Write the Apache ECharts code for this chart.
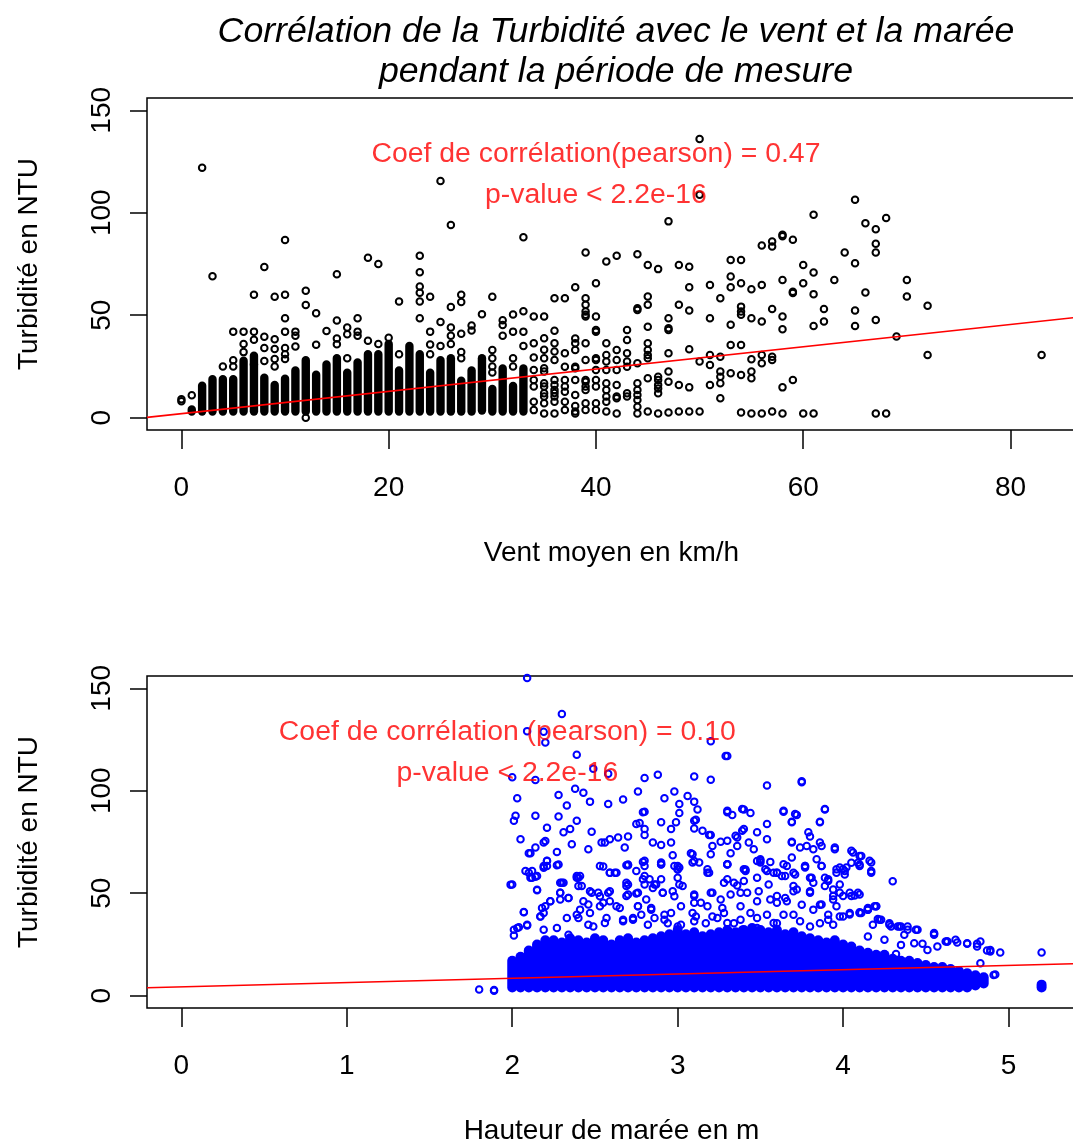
<!DOCTYPE html>
<html>
<head>
<meta charset="utf-8">
<script src="https://cdn.jsdelivr.net/npm/echarts@6/dist/echarts.min.js"></script>
<style>
  html, body { margin: 0; padding: 0; background: #fff; }
  #chart { width: 1073px; height: 1147px; }
</style>
</head>
<body>
<div id="chart"></div>
<script>
// graduations des axes
var windTicks = [0, 20, 40, 60, 80];
var tideTicks = [0, 1, 2, 3, 4, 5];
var ntuTicks = [0, 50, 100, 150];

// vent : colonnes de points superposés [vent, turbidité min, turbidité max]
var windColumns = [
  [1, 3, 4], [2, 3, 15.6], [3, 3, 18.8], [4, 3, 18.8], [5, 3, 18.8], [6, 3, 27.8],
  [7, 3, 30.2], [8, 3, 19.5], [9, 3, 16], [10, 3, 19], [11, 3, 23], [12, 3, 28],
  [13, 3, 21], [14, 3, 26], [15, 3, 29], [16, 3, 22], [17, 3, 27], [18, 3, 31],
  [19, 3, 31], [20, 3, 36], [21, 3, 23], [22, 3, 35], [23, 3, 31], [24, 3, 22],
  [25, 3, 28], [26, 3, 29], [27, 3, 18], [28, 3, 23], [29, 3.5, 29], [30, 3, 14],
  [31, 3, 24], [32, 3, 15.5], [33, 3, 24]
];
// vent : points isolés [vent, turbidité]
var windPoints = [
  [0, 9], [0, 8], [1, 11], [2, 122], [3, 69], [4, 25],
  [5, 25], [5, 28], [5, 42], [6, 32], [6, 36], [6, 42],
  [7, 26], [7, 38], [7, 42], [7, 60], [8, 27.7], [8, 34], [8, 39.5], [8, 73.5],
  [9, 25], [9, 28.6], [9, 33.5], [9, 38.3], [9, 59],
  [10, 28.6], [10, 31], [10, 34], [10, 42], [10, 48.5], [10, 60], [10, 86.7],
  [11, 34.8], [11, 40], [11, 42], [12, 0], [12, 55], [12, 62], [13, 35.6], [13, 51],
  [14, 42.3], [15, 35.8], [15, 38.6], [15, 47.4], [15, 70], [16, 29], [16, 40.7], [16, 44],
  [17, 40], [17, 42], [17, 48.5], [18, 37.5], [18, 78], [19, 36], [19, 75], [20, 39],
  [21, 31], [21, 56.7], [23, 48.5], [23, 56.7], [23, 61], [23, 64], [23, 71], [23, 79],
  [24, 31], [24, 35.7], [24, 42], [24, 59], [25, 35], [25, 46.7], [25, 115.5],
  [26, 36], [26, 40], [26, 44], [26, 54], [26, 94], [27, 29], [27, 32], [27, 41], [27, 56.5], [27, 60],
  [28, 42.5], [28, 45], [29, 50.5], [30, 22], [30, 25], [30, 29], [30, 33], [30, 59],
  [31, 40], [31, 45.2], [31, 47.6], [32, 25], [32, 29], [32, 42], [32, 50.3],
  [33, 35], [33, 42], [33, 52], [33, 88],
  [34, 3.7], [34, 7.8], [34, 15.2], [34, 18.4], [34, 23.3], [34, 29.4], [34, 36.3], [34, 49.4],
  [35, 2.1], [35, 7], [35, 10.3], [35, 11.9], [35, 15.2], [35, 16.8], [35, 22.5], [35, 24.1],
  [35, 29], [35, 33.1], [35, 38.8], [35, 49.4],
  [36, 2.1], [36, 7.8], [36, 10.3], [36, 12], [36, 13.5], [36, 16], [36, 18.4], [36, 28.2],
  [36, 32.3], [36, 36.3], [36, 42.4], [36, 58.3],
  [37, 58.3], [37, 31.4], [37, 24.9], [37, 18.4], [37, 15.2], [37, 12.7], [37, 7.8], [37, 3.8],
  [38, 63.7], [38, 38.7], [38, 36.3], [38, 33], [38, 24.9], [38, 24.1], [38, 18.4], [38, 11.1], [38, 5.7], [38, 3], [38, 2.1],
  [39, 80.6], [39, 58.3], [39, 55.1], [39, 51.8], [39, 50.2], [39, 49.4], [39, 36.3], [39, 28.2],
  [39, 18.4], [39, 17.6], [39, 15.2], [39, 13.5], [39, 7], [39, 3.8],
  [40, 65.6], [40, 49.4], [40, 42.8], [40, 42], [40, 29], [40, 28.2], [40, 23.3], [40, 18.4], [40, 15.2], [40, 7], [40, 3.8],
  [41, 76.2], [41, 36.3], [41, 30.6], [41, 27.4], [41, 23.3], [41, 16.8], [41, 13.5], [41, 10.3], [41, 7.8], [41, 3],
  [42, 79], [42, 33], [42, 28.2], [42, 23.3], [42, 16], [42, 10.3], [42, 9.5], [42, 2.1],
  [43, 42.8], [43, 37.9], [43, 31.4], [43, 27.4], [43, 24.9], [43, 11.9], [43, 10.3],
  [44, 79.8], [44, 53.4], [44, 52.6], [44, 26.6], [44, 16.8], [44, 13.5], [44, 11.1], [44, 8.6], [44, 5.4], [44, 2.1],
  [45, 74.5], [45, 59.2], [45, 55.1], [45, 44.4], [45, 36.3], [45, 33], [45, 30.6], [45, 29], [45, 19.2], [45, 3],
  [46, 72.5], [46, 20], [46, 18.4], [46, 16], [46, 14.3], [46, 11.9], [46, 2.1],
  [47, 95.8], [47, 48.5], [47, 43.6], [47, 42.8], [47, 31.4], [47, 22.5], [47, 17.6], [47, 2.5],
  [48, 74.5], [48, 55.1], [48, 16], [48, 3],
  [49, 73.7], [49, 63.7], [49, 52.3], [49, 33.4], [49, 14.8], [49, 3],
  [50, 136], [50, 108.8], [50, 27.4], [50, 3],
  [51, 64.8], [51, 48.5], [51, 30.6], [51, 25.7], [51, 16],
  [52, 58.3], [52, 29.8], [52, 22.5], [52, 20], [52, 16.8], [52, 9.5],
  [53, 77], [53, 68.9], [53, 63.7], [53, 45.3], [53, 35.5], [53, 21.7],
  [54, 77], [54, 65.6], [54, 54.2], [54, 51.8], [54, 50.2], [54, 35.5], [54, 20.8], [54, 2.5],
  [55, 62.7], [55, 48.5], [55, 28.5], [55, 22.5], [55, 19.2], [55, 2.1],
  [56, 84], [56, 64.8], [56, 46.9], [56, 30.6], [56, 26.6], [56, 2.1],
  [57, 86], [57, 83.5], [57, 53], [57, 29.8], [57, 28.2], [57, 3],
  [58, 89.3], [58, 88.6], [58, 67.2], [58, 49.4], [58, 43.2], [58, 14.8], [58, 2.1],
  [59, 86.8], [59, 60.8], [59, 61.5], [59, 18.4],
  [60, 74.5], [60, 65.6], [60, 2.1],
  [61, 99], [61, 70.8], [61, 60.3], [61, 44.8], [61, 2.1],
  [62, 53], [62, 46.9], [63, 67.2], [64, 80.6],
  [65, 106.3], [65, 75.4], [65, 52.3], [65, 44.8], [66, 94.9], [66, 61.1],
  [67, 92], [67, 84.9], [67, 80.6], [67, 47.7], [67, 2.1], [68, 97.4], [68, 2.1],
  [69, 39.6], [70, 67.2], [70, 59.2], [72, 54.6], [72, 30.6], [83, 30.6]
];
// droite de régression (extrémités)
var windFitLine = [[-3.32, 0.14], [86.32, 48.9]];
var windText = [[40, 130, 'Coef de corrélation(pearson) = 0.47'], [40, 110, 'p-value < 2.2e-16']];

// marée : masse dense [hauteur, turbidité min, turbidité max]
var tideColumns = [
  [2.00, 4, 17], [2.05, 4, 19], [2.10, 4, 22], [2.15, 4, 25], [2.20, 4, 27], [2.25, 4, 27],
  [2.30, 4, 26], [2.35, 4, 28], [2.40, 4, 27], [2.45, 4, 26], [2.50, 4, 28], [2.55, 4, 27],
  [2.60, 4, 25], [2.65, 4, 27], [2.70, 4, 28], [2.75, 4, 26], [2.80, 4, 27], [2.85, 4, 28],
  [2.90, 4, 29], [2.95, 4, 30], [3.00, 4, 32], [3.05, 4, 30], [3.10, 4, 31], [3.15, 4, 29],
  [3.20, 4, 30], [3.25, 4, 31], [3.30, 4, 32], [3.35, 4, 31], [3.40, 4, 32], [3.45, 4, 33],
  [3.50, 4, 32], [3.55, 4, 31], [3.60, 4, 32], [3.65, 4, 30], [3.70, 4, 31], [3.75, 4, 29],
  [3.80, 4, 28], [3.85, 4, 27], [3.90, 4, 26], [3.95, 4, 27], [4.00, 4, 25], [4.05, 4, 24],
  [4.10, 4, 22], [4.15, 4, 21], [4.20, 4, 20], [4.25, 4, 20], [4.30, 4, 18], [4.35, 4, 17],
  [4.40, 4, 17], [4.45, 4, 16], [4.50, 4, 15], [4.55, 4, 14], [4.60, 4, 14], [4.65, 4, 13],
  [4.70, 4, 12], [4.75, 4, 11], [4.80, 5, 10], [4.85, 6, 9], [5.20, 4, 5.4]
];
// marée : points isolés [hauteur, turbidité]
var tidePoints = [
  [2.09, 155], [2.09, 129.1], [2.19, 128.8], [2.20, 123.5], [2.0, 106.6], [2.14, 105.3], [2.03, 96.3],
  [2.28, 97.9], [2.02, 87.8], [2.14, 87.8], [2.28, 87.4], [2.21, 81.9], [2.05, 76.3], [2.20, 75.5],
  [2.10, 69.5], [2.27, 70.1], [2.08, 60.8], [2.19, 62.4], [2.27, 63.6], [1.99, 54.2], [2.12, 57.5],
  [2.15, 51.7], [2.07, 40.7], [2.17, 38.7], [2.01, 29.4], [2.04, 33.4], [2.09, 34.3],
  [1.80, 3.0], [1.89, 2.4], [1.89, 2.8],
  [2.01, 85.4], [2.11, 69.5], [2.14, 72.3], [2.19, 74.8], [2.21, 65.8], [2.21, 63.3], [2.11, 57.6],
  [2.15, 58.4], [2.23, 46.1], [2.19, 32.2], [2.27, 33.0],
  [2.30, 137.5], [2.39, 117.6], [3.20, 124.2], [3.29, 117.0], [3.30, 117], [2.58, 108.3], [2.49, 110.8],
  [2.80, 106.2], [2.88, 107.8], [3.10, 107.0], [3.20, 105.4], [3.54, 102.6], [3.75, 104.2], [2.38, 101],
  [2.43, 99], [2.58, 93.6], [2.67, 95.7], [2.76, 99.6], [2.98, 99.6], [3.06, 97.4], [3.10, 94.7],
  [2.92, 96.4], [2.47, 94.7], [2.33, 92.8], [2.79, 89.5], [3.01, 93.6], [3.01, 89.2], [3.30, 89.5],
  [3.33, 88.2], [3.39, 91.1], [3.44, 89.2], [3.64, 89.8], [3.72, 88.2], [3.89, 90.8], [3.86, 84.6],
  [3.69, 84.6], [2.77, 84.3], [2.90, 84.6], [2.96, 81.3], [2.99, 84.6], [3.11, 85.9], [3.54, 83.8],
  [2.39, 85.4], [2.48, 80.0], [2.56, 74.8], [2.64, 77.2], [2.70, 77.7], [2.85, 74.8], [2.90, 73.5],
  [2.96, 74.8], [3.09, 69.0], [3.20, 78.4], [3.30, 75.6], [3.35, 78.0], [3.39, 80.5], [3.48, 79.7],
  [3.54, 76.4], [3.69, 74.8], [3.74, 72.3], [3.78, 73.1], [3.86, 74.8], [3.95, 71.5], [3.84, 66.6],
  [4.06, 69.9], [4.11, 68.2], [4.17, 65.0], [4.10, 63.3], [4.00, 61.7], [3.96, 60.0], [4.30, 55.9],
  [2.55, 63.0], [2.69, 63.6], [2.79, 65.3], [2.90, 65.0], [3.0, 61.7], [3.01, 62.5], [3.20, 69.0],
  [3.30, 64.1], [3.41, 60.9], [3.50, 65.8], [3.60, 60.0], [3.70, 60.0], [3.77, 62.5], [2.39, 57.6],
  [2.59, 60.0], [2.69, 55.1], [2.83, 56.8], [3.09, 65.0], [3.18, 61.7], [3.30, 56.8], [3.34, 55.1],
  [3.40, 56.0], [3.55, 54.3], [3.70, 53.5], [3.82, 55.1], [3.94, 51.8], [4.00, 48.6], [4.07, 48.9],
  [4.15, 42.3], [4.20, 43.6], [4.22, 37.1], [4.29, 33.8], [4.35, 33.8], [4.44, 32.2], [4.55, 29.8],
  [4.63, 26.5], [4.75, 25.3], [4.81, 24.0], [4.89, 21.6], [4.95, 21.1], [5.20, 21.1], [4.91, 10.1],
  [4.79, 8.5],
  [2.40, 57.6], [2.63, 60.0], [2.75, 60.8], [2.79, 56.8], [2.90, 56.8], [3.00, 57.6], [3.18, 60.0],
  [3.28, 55.1], [3.36, 53.8], [3.40, 61.7], [3.48, 57.6], [3.53, 61.7], [2.29, 55.1], [2.40, 53.5],
  [2.52, 50.2], [2.58, 50.2], [2.69, 53.5], [2.75, 49.9], [2.86, 54.3], [2.91, 50.2], [3.10, 48.6],
  [3.21, 50.2], [2.29, 50.2], [2.34, 47.7], [2.41, 42.0], [2.46, 44.5], [2.53, 43.6], [2.59, 46.1],
  [2.69, 48.6], [2.76, 43.6], [2.84, 42.8], [2.96, 40.4], [3.02, 43.6], [3.10, 45.3], [3.18, 43.6],
  [3.28, 40.4], [3.38, 43.6], [3.48, 46.1], [3.60, 48.6], [2.34, 29.7], [2.40, 37.9], [2.46, 34.6],
  [2.56, 35.5], [2.67, 36.3], [2.73, 37.9], [2.82, 34.6], [2.92, 37.1], [3.00, 33.8], [3.10, 36.3],
  [3.21, 38.7], [3.30, 35.5], [3.39, 32.2], [3.48, 33.0], [3.58, 35.5],
  [2.35, 81.3], [2.31, 79.7], [2.54, 74.8], [2.59, 76.4], [2.75, 83.8], [2.80, 81.3], [2.80, 89.8],
  [2.80, 78.4], [3.10, 81.6], [3.10, 85.4], [3.15, 80.5], [3.19, 78.4], [3.26, 75.1], [3.36, 77.2],
  [3.40, 81.3], [2.36, 73.9], [2.46, 71.5], [2.68, 72.3], [2.97, 68.5], [3.08, 69.5], [3.21, 73.1],
  [3.32, 69.5], [3.36, 73.1], [3.43, 74.8], [3.46, 71.5], [3.50, 66.6], [3.56, 65.3], [2.70, 63.6],
  [2.80, 65.8], [2.90, 64.1], [3.00, 63.3], [3.30, 64.1], [3.40, 90.8], [3.12, 90.8], [3.30, 90.3],
  [3.75, 104.6], [3.64, 90.3], [3.71, 88.7], [3.69, 84.9], [3.89, 91.1], [3.86, 84.9], [3.79, 79.7],
  [3.80, 77.7], [3.69, 75.1], [3.82, 71.5], [3.87, 73.1], [3.95, 72.3], [4.05, 70.7], [4.10, 68.2],
  [4.16, 65.8], [4.17, 60.8], [3.69, 67.4], [3.64, 64.1], [3.77, 63.3], [3.87, 63.3], [3.96, 61.7],
  [4.02, 62.5], [4.09, 64.9], [3.58, 60], [3.65, 58.4], [3.80, 57.6], [3.91, 56.8], [4.01, 59.2],
  [3.89, 53.5], [3.98, 54.3], [3.72, 51.8], [4.05, 48.6], [4.10, 49.4], [3.94, 48.6], [3.80, 50.2],
  [3.66, 46.1], [3.87, 44.5], [3.96, 43.6], [3.82, 42.0], [4.04, 39.6], [4.10, 40.7], [4.15, 42.0],
  [4.19, 43.6], [3.91, 37.1], [3.98, 38.7], [4.21, 37.4], [4.18, 34.6], [4.28, 34.6], [4.34, 33.8],
  [4.39, 33.8], [4.37, 29.7], [4.55, 30.2], [4.48, 25.3], [4.62, 26.5], [4.69, 26.0], [4.75, 25.6],
  [4.81, 25.3], [4.87, 22.0], [4.32, 20.4], [4.83, 15.8], [4.92, 10.4], [4.80, 9.3],
  [2.00, 54.3], [2.10, 60], [2.12, 60.8], [2.14, 58], [2.19, 63.3], [2.21, 65.7], [2.28, 64],
  [2.15, 51.5], [2.30, 55.1], [2.31, 55.1], [2.29, 50.2], [2.39, 58.4], [2.41, 58.4], [2.42, 53.5],
  [2.47, 51], [2.53, 63.3], [2.59, 60], [2.62, 60], [2.70, 64], [2.70, 54.3], [2.76, 50.2],
  [2.80, 63.3], [2.80, 58.4], [2.80, 54.3], [2.87, 54.3], [2.90, 64], [2.98, 63.3], [3.0, 61.6],
  [3.01, 54.3], [3.10, 65.7], [3.13, 65], [3.19, 60], [3.30, 64], [3.41, 61.6], [3.48, 65.7],
  [3.50, 65], [3.54, 60.8], [3.60, 60], [3.63, 58.4], [3.66, 63.3], [3.71, 59.2], [3.77, 63.3],
  [3.81, 57.5], [3.87, 63.3], [3.89, 57.5], [3.91, 56], [3.98, 62.5], [4.01, 60.8], [4.05, 64.9],
  [4.10, 64], [4.17, 60],
  [2.07, 40.9], [2.23, 46.1], [2.18, 42.8], [2.20, 43.6], [2.29, 46.9], [2.34, 47.7], [2.39, 39.5],
  [2.48, 50.2], [2.53, 48.5], [2.55, 45.3], [2.59, 51], [2.63, 43.6], [2.70, 49.4], [2.76, 43.6],
  [2.81, 46.9], [2.85, 52.6], [2.91, 50.2], [2.97, 51], [2.98, 48.5], [3.03, 53.5], [3.10, 49.4],
  [3.14, 45.3], [3.20, 50.2], [3.26, 46.9], [3.32, 49.4], [3.38, 50.2], [3.42, 50.2], [3.49, 51],
  [3.56, 46.9], [3.60, 45.3], [3.65, 47.7], [3.70, 51], [3.75, 44.4], [3.80, 51], [3.86, 44.4],
  [3.94, 46.9], [3.98, 50.2], [4.04, 50.2], [4.09, 50.2], [4.11, 40.4], [4.15, 42], [4.20, 43.6],
  [2.01, 32.2], [2.03, 33], [2.09, 34.6], [2.17, 38.7], [2.19, 40.4], [2.33, 37.9], [2.43, 46.1],
  [2.47, 40.4], [2.49, 33.8], [2.57, 37.9], [2.65, 42.8], [2.67, 37.1], [2.73, 37.1], [2.78, 39.5],
  [2.84, 42], [2.86, 37.9], [2.92, 39.5], [2.94, 35.4], [3.02, 34.6], [3.09, 40.4], [3.11, 38.7],
  [3.17, 35.4], [3.24, 37.9], [3.27, 42.8], [3.34, 35.4], [3.38, 37.1], [3.44, 40.4], [3.48, 37.9],
  [3.54, 39.5], [3.60, 35.4], [3.64, 39.5], [3.70, 39.5], [3.74, 36.3], [3.80, 33.8], [3.86, 35.4],
  [3.91, 39.5], [3.94, 34.6], [4.0, 38.7], [4.04, 40.4], [4.10, 40.4], [4.15, 42.8], [4.23, 37.1],
  [4.28, 35.4], [4.33, 33.8], [4.39, 32.2], [4.45, 32.2], [4.55, 30.6], [4.63, 26.4], [4.68, 27.3],
  [4.15, 28.9], [4.25, 27.3], [4.35, 24.8], [4.43, 25.6], [4.51, 22.3], [4.57, 24], [4.83, 26.4],
  [4.89, 22.3]
];
var tideFitLine = [[-0.208, 3.9], [5.408, 15.6]];
var tideText = [[1.97, 130, 'Coef de corrélation (pearson) = 0.10'], [1.97, 110, 'p-value < 2.2e-16']];

var FONT = 'Liberation Sans, Arial, sans-serif';

// colonne de cercles serrés -> capsule pleine
function columnRenderer(color, r) {
  return function (params, api) {
    var top = api.coord([api.value(0), api.value(2)]);
    var bot = api.coord([api.value(0), api.value(1)]);
    return {
      type: 'rect',
      shape: { x: top[0] - r, y: top[1] - r, width: 2 * r, height: bot[1] - top[1] + 2 * r, r: r },
      style: { fill: color }
    };
  };
}

function xAxisFor(idx, min, max, ticks, name) {
  return {
    type: 'value', gridIndex: idx, min: min, max: max,
    name: name, nameLocation: 'middle', nameGap: 109,
    nameTextStyle: { fontFamily: FONT, fontSize: 28, color: '#000' },
    axisLine: { show: false, onZero: false },
    splitLine: { show: false },
    axisTick: { show: true, length: 19, customValues: ticks, lineStyle: { color: '#000', width: 1.5 } },
    axisLabel: { show: true, customValues: ticks, margin: 44, fontFamily: FONT, fontSize: 28, color: '#000' }
  };
}

function yAxisFor(idx) {
  return {
    type: 'value', gridIndex: idx, min: -6, max: 156,
    name: 'Turbidité en NTU', nameLocation: 'middle', nameGap: 104, nameRotate: 90,
    nameTextStyle: { fontFamily: FONT, fontSize: 28, color: '#000' },
    axisLine: { show: false, onZero: false },
    splitLine: { show: false },
    axisTick: { show: true, length: 17, customValues: ntuTicks, lineStyle: { color: '#000', width: 1.5 } },
    axisLabel: { show: true, customValues: ntuTicks, rotate: 90, margin: 31, fontFamily: FONT, fontSize: 28, color: '#000' }
  };
}

function pointSeries(idx, data, color) {
  return {
    type: 'scatter', xAxisIndex: idx, yAxisIndex: idx, data: data,
    symbol: 'circle', symbolSize: 6.5, silent: true,
    itemStyle: { color: 'rgba(0,0,0,0)', borderColor: color, borderWidth: 2, opacity: 1 },
    clip: true
  };
}

function textSeries(idx, data) {
  return {
    type: 'scatter', xAxisIndex: idx, yAxisIndex: idx, data: data,
    symbol: 'circle', symbolSize: 1, silent: true, z: 10,
    itemStyle: { color: 'rgba(0,0,0,0)' },
    label: {
      show: true, position: 'inside', offset: [0, 3], color: '#ff0000', fontFamily: FONT, fontSize: 28.4,
      formatter: function (p) { return p.value[2]; }
    }
  };
}

var chart = echarts.init(document.getElementById('chart'), null, { renderer: 'canvas' });
chart.setOption({
  animation: false,
  backgroundColor: '#fff',
  title: {
    text: 'Corrélation de la Turbidité avec le vent et la marée\npendant la période de mesure',
    left: 611, top: 7, textAlign: 'center',
    textStyle: { fontFamily: FONT, fontSize: 35.7, fontStyle: 'italic', fontWeight: 'normal', color: '#000', lineHeight: 40 }
  },
  grid: [
    { left: 147, top: 98, width: 929, height: 332, show: true, borderColor: '#000', borderWidth: 1.5, backgroundColor: 'transparent', outerBoundsMode: 'none' },
    { left: 147, top: 676, width: 929, height: 332, show: true, borderColor: '#000', borderWidth: 1.5, backgroundColor: 'transparent', outerBoundsMode: 'none' }
  ],
  xAxis: [
    xAxisFor(0, -3.32, 86.32, windTicks, 'Vent moyen en km/h'),
    xAxisFor(1, -0.208, 5.408, tideTicks, 'Hauteur de marée en m')
  ],
  yAxis: [yAxisFor(0), yAxisFor(1)],
  series: [
    {
      type: 'custom', xAxisIndex: 0, yAxisIndex: 0, data: windColumns, silent: true, clip: true,
      encode: { x: 0, y: [1, 2] }, renderItem: columnRenderer('#000', 4.2)
    },
    pointSeries(0, windPoints, '#000'),
    {
      type: 'line', xAxisIndex: 0, yAxisIndex: 0, data: windFitLine, symbol: 'none', silent: true,
      lineStyle: { color: '#ff0000', width: 1.6 }, z: 5
    },
    textSeries(0, windText),

    {
      type: 'custom', xAxisIndex: 1, yAxisIndex: 1, data: tideColumns, silent: true, clip: true,
      encode: { x: 0, y: [1, 2] }, renderItem: columnRenderer('#0000ff', 5)
    },
    pointSeries(1, tidePoints, '#0000ff'),
    {
      type: 'line', xAxisIndex: 1, yAxisIndex: 1, data: tideFitLine, symbol: 'none', silent: true,
      lineStyle: { color: '#ff0000', width: 1.6 }, z: 5
    },
    textSeries(1, tideText)
  ]
});
</script>
</body>
</html>
